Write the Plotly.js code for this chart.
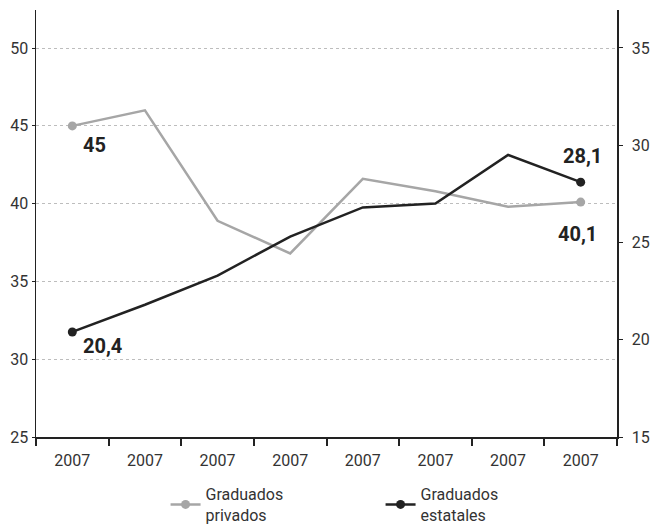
<!DOCTYPE html>
<html>
<head>
<meta charset="utf-8">
<script src="https://cdn.plot.ly/plotly-3.0.1.min.js"></script>
<style>html,body{margin:0;padding:0;background:#fff;}#chart{width:652px;height:526px;}</style>
</head>
<body>
<div id="chart"></div>
<script>
const categories = ['2007','2007','2007','2007','2007','2007','2007','2007'];
const privados = [45, 46.0, 38.9, 36.8, 41.6, 40.8, 39.8, 40.1];
const estatales = [20.4, 21.8, 23.3, 25.3, 26.8, 27.0, 29.5, 28.1];
const namePrivados = 'Graduados<br>privados';
const nameEstatales = 'Graduados<br>estatales';
const labelPrivados = ['45', '40,1'];
const labelEstatales = ['20,4', '28,1'];

const xs = categories.map((c, i) => i);
const last = categories.length - 1;
const endX = [xs[0], xs[last]];

const FONT = 'Roboto, "Noto Sans", sans-serif';
const GRAY = '#a6a6a6';
const BLACK = '#222222';

const traces = [
  {x: xs, y: privados, type: 'scatter', mode: 'lines', line: {color: GRAY, width: 2.5},
   yaxis: 'y', showlegend: false, hoverinfo: 'none'},
  {x: endX, y: [privados[0], privados[last]], type: 'scatter', mode: 'markers',
   marker: {color: GRAY, size: 9, line: {width: 0}}, yaxis: 'y', showlegend: false, hoverinfo: 'none'},
  {x: xs, y: estatales, type: 'scatter', mode: 'lines', line: {color: BLACK, width: 2.5},
   yaxis: 'y2', showlegend: false, hoverinfo: 'none'},
  {x: endX, y: [estatales[0], estatales[last]], type: 'scatter', mode: 'markers',
   marker: {color: BLACK, size: 9, line: {width: 0}}, yaxis: 'y2', showlegend: false, hoverinfo: 'none'},
  {x: [null], y: [null], name: namePrivados, type: 'scatter', mode: 'lines+markers',
   line: {color: GRAY, width: 2.5}, marker: {color: GRAY, size: 9, line: {width: 0}}, yaxis: 'y', hoverinfo: 'none'},
  {x: [null], y: [null], name: nameEstatales, type: 'scatter', mode: 'lines+markers',
   line: {color: BLACK, width: 2.5}, marker: {color: BLACK, size: 9, line: {width: 0}}, yaxis: 'y2', hoverinfo: 'none'}
];

const annFont = {family: FONT, size: 20, color: BLACK, weight: 'bold'};
const annotations = [
  {x: 0, y: privados[0], xref: 'x', yref: 'y', text: '<b>' + labelPrivados[0] + '</b>', showarrow: false, xshift: 22, yshift: -19, font: annFont},
  {x: last, y: privados[last], xref: 'x', yref: 'y', text: '<b>' + labelPrivados[1] + '</b>', showarrow: false, xshift: -3, yshift: -32, font: annFont},
  {x: 0, y: estatales[0], xref: 'x', yref: 'y2', text: '<b>' + labelEstatales[0] + '</b>', showarrow: false, xshift: 30, yshift: -14, font: annFont},
  {x: last, y: estatales[last], xref: 'x', yref: 'y2', text: '<b>' + labelEstatales[1] + '</b>', showarrow: false, xshift: 2, yshift: 26, font: annFont}
];

const layout = {
  width: 652, height: 526,
  margin: {l: 36, r: 35, t: 10, b: 89, autoexpand: false},
  paper_bgcolor: '#fff', plot_bgcolor: '#fff',
  font: {family: FONT, size: 16, color: '#333'},
  showlegend: true,
  legend: {
    orientation: 'h', x: 0.223, xanchor: 'left', y: -0.094, yanchor: 'top',
    font: {family: FONT, size: 16, color: '#333'}, entrywidth: 170, tracegroupgap: 0
  },
  xaxis: {
    range: [-0.5, 7.5], tickvals: xs, ticktext: categories, ticks: '',
    showgrid: false, zeroline: false, showline: true, linecolor: BLACK, linewidth: 2,
    tickfont: {size: 16, color: '#333'}, ticklabelstandoff: 8,
    minor: {tick0: -0.5, dtick: 1, ticks: 'outside', ticklen: 7, tickwidth: 2, tickcolor: BLACK, showgrid: false}
  },
  yaxis: {
    range: [25, 52.45], tickvals: [25, 30, 35, 40, 45, 50], ticks: 'outside', ticklen: 3, tickcolor: BLACK,
    showgrid: true, gridcolor: '#bdbdbd', griddash: 'dot', gridwidth: 1,
    zeroline: false, showline: true, linecolor: BLACK, linewidth: 1.5,
    tickfont: {size: 16, color: '#333'}
  },
  yaxis2: {
    overlaying: 'y', side: 'right',
    range: [15, 36.95], tickvals: [15, 20, 25, 30, 35], ticks: 'outside', ticklen: 4, tickcolor: BLACK,
    showgrid: false, zeroline: false, showline: true, linecolor: BLACK, linewidth: 1.5,
    tickfont: {size: 16, color: '#333'}, ticklabelstandoff: 6
  },
  annotations: annotations
};

Plotly.newPlot('chart', traces, layout, {displayModeBar: false, staticPlot: true});
</script>
</body>
</html>
